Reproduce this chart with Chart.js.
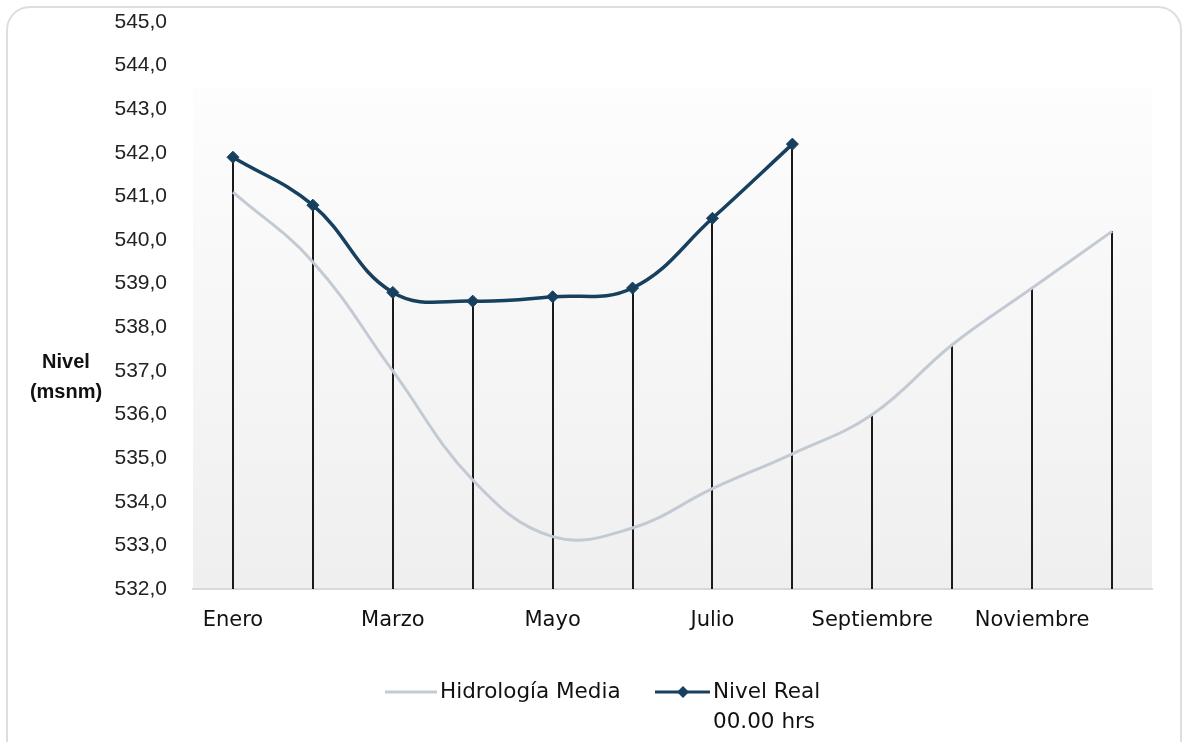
<!DOCTYPE html>
<html>
<head>
<meta charset="utf-8">
<script src="https://cdn.jsdelivr.net/npm/chart.js@4.4.1/dist/chart.umd.min.js"></script>
<style>
  html, body { margin: 0; padding: 0; background: #fff; }
  #wrap { position: relative; width: 1183px; height: 742px; overflow: hidden; }
  #frame {
    position: absolute; left: 6px; top: 6px; width: 1172px; height: 760px;
    border: 2px solid #dedede; border-radius: 24px; pointer-events: none;
  }
  canvas { position: absolute; left: 0; top: 0; }
</style>
</head>
<body>
<div id="wrap">
  <canvas id="nivelChart" width="1183" height="742"></canvas>
  <div id="frame"></div>
</div>
<script>
// Months (only every other one is labelled on the axis)
const months = ["Enero", "Febrero", "Marzo", "Abril", "Mayo", "Junio",
                "Julio", "Agosto", "Septiembre", "Octubre", "Noviembre", "Diciembre"];

// Levels in msnm
const hidrologiaMedia = [541.1, 539.5, 537.0, 534.5, 533.2, 533.4, 534.3, 535.1, 536.0, 537.6, 538.9, 540.2];
const nivelReal = [541.9, 540.8, 538.8, 538.6, 538.7, 538.9, 540.5, 542.2, null, null, null, null];

const yMin = 532;
const yMax = 545;
const yStep = 1;

const axisTitle = ["Nivel", "(msnm)"];
const realLabel = ["Nivel Real", "00.00 hrs"];

const mediaColor = "#c3cad4";
const realColor = "#17405e";
const labelFont = "DejaVu Sans";

// soft gradient behind the plot, then the vertical drop lines
const backdrop = {
    id: "backdrop",
    beforeDraw(chart) {
        const { ctx, chartArea } = chart;
        const top = 88;
        const g = ctx.createLinearGradient(0, top, 0, chartArea.bottom);
        g.addColorStop(0, "#fdfdfd");
        g.addColorStop(1, "#efefef");
        ctx.save();
        ctx.fillStyle = g;
        ctx.fillRect(chartArea.left, top, chartArea.right - chartArea.left, chartArea.bottom - top);
        ctx.restore();
    },
    beforeDatasetsDraw(chart) {
        const { ctx, chartArea, scales } = chart;
        ctx.save();
        ctx.strokeStyle = "#1a1a1a";
        ctx.lineWidth = 2;
        months.forEach((m, i) => {
            const vals = [hidrologiaMedia[i], nivelReal[i]].filter(v => v != null);
            const x = Math.round(scales.x.getPixelForValue(i));
            const y = scales.y.getPixelForValue(Math.max(...vals));
            ctx.beginPath();
            ctx.moveTo(x, y);
            ctx.lineTo(x, chartArea.bottom);
            ctx.stroke();
        });
        ctx.restore();
    },
    afterDraw(chart) {
        const { ctx } = chart;
        ctx.save();
        // y axis title, horizontal
        ctx.font = "bold 20px 'Liberation Sans'";
        ctx.fillStyle = "#111";
        ctx.textAlign = "center";
        ctx.textBaseline = "middle";
        ctx.fillText(axisTitle[0], 66, 362);
        ctx.fillText(axisTitle[1], 66, 392);

        // legend
        ctx.font = "21.5px '" + labelFont + "'";
        ctx.textAlign = "left";
        ctx.fillStyle = "#111";
        const ly = 692;
        let x = 385;
        ctx.strokeStyle = mediaColor;
        ctx.lineWidth = 3;
        ctx.beginPath(); ctx.moveTo(x, ly); ctx.lineTo(x + 52, ly); ctx.stroke();
        ctx.fillText(chart.data.datasets[0].label, x + 55, ly);
        x = 655;
        ctx.strokeStyle = realColor;
        ctx.beginPath(); ctx.moveTo(x, ly); ctx.lineTo(x + 55, ly); ctx.stroke();
        const dx = x + 28;
        ctx.fillStyle = realColor;
        ctx.beginPath();
        ctx.moveTo(dx, ly - 6); ctx.lineTo(dx + 6, ly); ctx.lineTo(dx, ly + 6); ctx.lineTo(dx - 6, ly);
        ctx.closePath(); ctx.fill();
        ctx.fillStyle = "#111";
        realLabel.forEach((t, k) => ctx.fillText(t, x + 58, ly + k * 30));
        ctx.restore();
    }
};

const ctx = document.getElementById("nivelChart").getContext("2d");
new Chart(ctx, {
    type: "line",
    data: {
        labels: months,
        datasets: [
            {
                label: "Hidrología Media",
                data: hidrologiaMedia,
                borderColor: mediaColor,
                borderWidth: 3,
                pointRadius: 0,
                tension: 0.4,
                fill: false
            },
            {
                label: realLabel.join(" "),
                data: nivelReal,
                borderColor: realColor,
                backgroundColor: realColor,
                borderWidth: 3.5,
                pointStyle: "rectRot",
                pointRadius: 6,
                pointBorderWidth: 1,
                tension: 0.4,
                spanGaps: false,
                fill: false
            }
        ]
    },
    options: {
        responsive: false,
        animation: false,
        devicePixelRatio: 1,
        layout: { autoPadding: false, padding: { top: 22, right: 31, left: 0, bottom: 0 } },
        plugins: {
            legend: { display: false },
            tooltip: { enabled: false }
        },
        scales: {
            x: {
                offset: true,
                grid: { display: false, drawTicks: false },
                border: { display: true, color: "#d9d9d9", width: 2 },
                ticks: {
                    autoSkip: false,
                    maxRotation: 0,
                    padding: 19,
                    color: "#111",
                    font: { family: labelFont, size: 21 },
                    callback: (v, i) => (i % 2 === 0 ? months[i] : "")
                },
                afterFit: scale => {
                    scale.height = 742 - 589;
                    scale.paddingLeft = 0;
                    scale.paddingRight = 0;
                }
            },
            y: {
                min: yMin,
                max: yMax,
                grid: { display: false, drawTicks: false },
                border: { display: false },
                ticks: {
                    stepSize: yStep,
                    padding: 26,
                    color: "#222",
                    font: { family: "Liberation Sans", size: 21 },
                    callback: v => v.toFixed(1).replace(".", ",")
                },
                afterFit: scale => {
                    scale.width = 193;
                    scale.paddingTop = 0;
                    scale.paddingBottom = 0;
                }
            }
        }
    },
    plugins: [backdrop]
});
</script>
</body>
</html>
